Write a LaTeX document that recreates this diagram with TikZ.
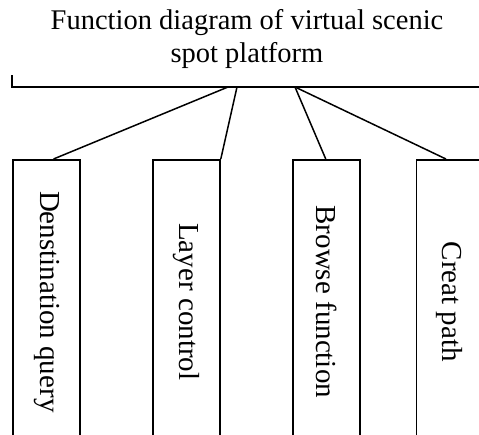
\documentclass[tikz,border=0pt]{standalone}
\usepackage{fontspec}
\setmainfont{Liberation Serif}
\begin{document}
\begin{tikzpicture}[x=1pt,y=-1pt,
  line/.style={line width=1.5pt,black},
  fbox/.style={draw,line width=1.5pt,rectangle,minimum width=67pt,minimum height=280pt,anchor=north west,inner sep=0pt},
  flabel/.style={rotate=-90,font=\fontsize{29}{33}\selectfont,inner sep=0pt},
  titletext/.style={align=center,font=\fontsize{28.5}{33}\selectfont,inner sep=0pt}]
\useasboundingbox (0,0) rectangle (479,434);
\fill[white] (0,0) rectangle (479,434);
\clip (0,0) rectangle (479,434);
% title
\node[titletext,anchor=base] (title) at (247,62) {Function diagram of virtual scenic\\spot platform};
% partial top box
\coordinate (tl) at (12,75);
\coordinate (tr) at (485,87);
\draw[line] (tl) |- (tr);
\coordinate (s1) at (228,87);
\coordinate (s2) at (237,87);
\coordinate (s3) at (295,87);
% boxes
\node[fbox] (b1) at (12.3,159) {};
\node[fbox] (b2) at (152.3,159) {};
\node[fbox] (b3) at (292,159) {};
\node[fbox] (b4) at (415.7,159) {};
\node[flabel] (l1) at ([yshift=-2pt]b1.center) {Denstination query};
\node[flabel] (l2) at ([yshift=-2pt]b2.center) {Layer control};
\node[flabel] (l3) at ([yshift=-2pt]b3.center) {Browse function};
\node[flabel] (l4) at ([yshift=-2pt]b4.center) {Creat path};
% connectors
\draw[line] (s1) -- ([xshift=7pt]b1.north);
\draw[line] (s2) -- (b2.north east);
\draw[line] (s3) -- ([xshift=-0.5pt]b3.north);
\draw[line] (s3) -- ([xshift=-4pt]b4.north);
\end{tikzpicture}
\end{document}
